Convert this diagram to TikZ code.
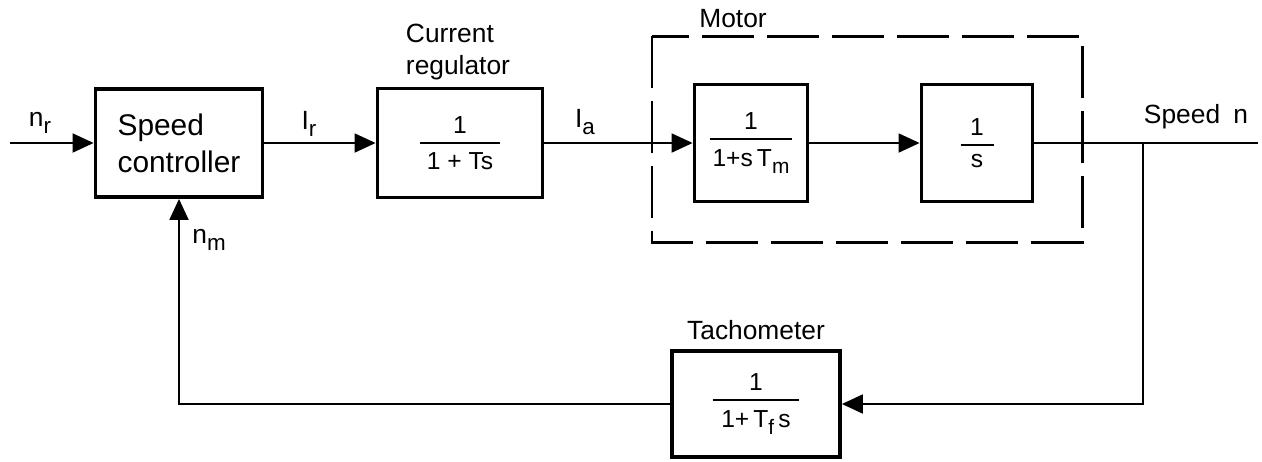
\documentclass[tikz,border=0pt]{standalone}
\usepackage{fontspec}
\setmainfont{Liberation Sans}
\usetikzlibrary{arrows.meta,positioning}
\tikzset{
    block/.style={draw, line width=2.2pt, inner sep=0pt},
    fracblock/.style={block, font=\fontsize{14}{17}\selectfont},
    sig/.style={draw, line width=1.1pt, -{Triangle[length=4.2mm, width=3.8mm]}},
    wire/.style={draw, line width=1.1pt},
    groupbox/.style={draw, line width=1.7pt, dash pattern=on 1.05cm off 0.25cm},
    lbl/.style={font=\fontsize{15}{18}\selectfont, inner sep=1pt}
}
\newcommand{\blockfrac}[3]{\vbox{\hbox to #3{\hfil#1\hfil}\kern5pt\hrule height 1.1pt\kern5pt\hbox to #3{\hfil#2\hfil}}}
\newcommand{\lowsub}[1]{\raisebox{-0.55ex}{\scalebox{0.85}{#1}}}

\begin{document}
\begin{tikzpicture}[x=0.02cm, y=-0.02cm]
    \useasboundingbox (0,0) rectangle (1262,461);

    % Blocks
    \node[block, minimum width=3.34cm, minimum height=2.16cm, align=left, font=\fontsize{17}{21}\selectfont] (sc) at (179,143) {Speed\\controller};
    \node[fracblock, minimum width=3.3cm, minimum height=2.18cm] (cr) at (460,143) {\blockfrac{1}{1 + Ts}{1.6cm}};
    \node[fracblock, minimum width=2.26cm, minimum height=2.34cm] (m1) at (751,143) {\blockfrac{1}{1+s\,T\lowsub{m}}{1.66cm}};
    \node[fracblock, minimum width=2.22cm, minimum height=2.34cm] (m2) at (977,143) {\blockfrac{1}{s}{0.66cm}};
    \node[fracblock, minimum width=3.36cm, minimum height=2.12cm] (tach) at (756,404) {\blockfrac{1}{1+\,T\lowsub{f}\,s}{1.74cm}};

    % Motor group
    \draw[groupbox] (652,36) rectangle (1082,242);

    % Points
    \coordinate (in) at (10,143);
    \coordinate (br) at (1143,143);
    \coordinate (out) at (1258,143);

    % Labels
    \node[lbl] (nr) at (40,123) {n\lowsub{r}};
    \node[lbl] (ir) at (309,124) {I\lowsub{r}};
    \node[lbl] (ia) at (585,122) {I\lowsub{a}};
    \node[lbl] (spd) at (1196,117) {Speed\enspace n};
    \node[lbl] (nm) at (209,240) {n\lowsub{m}};
    \node[lbl, align=left] (cur) at (458,52) {Current\\regulator};
    \node[lbl] (mot) at (733,19) {Motor};
    \node[lbl] (tac) at (756,330) {Tachometer};

    % Connectors
    \draw[sig] (in) -- (sc.west);
    \draw[sig] (sc.east) -- (cr.west);
    \draw[sig] (cr.east) -- (m1.west);
    \draw[sig] (m1.east) -- (m2.west);
    \draw[wire] (m2.east) -- (out);
    \draw[sig] (br) |- (tach.east);
    \draw[sig] (tach.west) -| (sc.south);
\end{tikzpicture}
\end{document}
